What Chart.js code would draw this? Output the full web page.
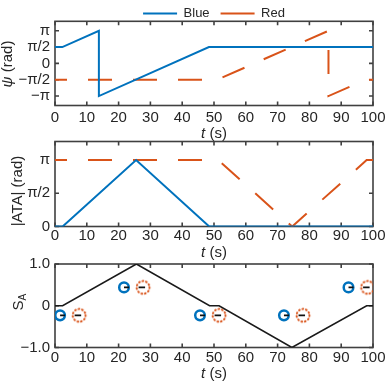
<!DOCTYPE html>
<html><head><meta charset="utf-8">
<script src="https://cdn.jsdelivr.net/npm/chart.js@4.4.1/dist/chart.umd.min.js"></script>
<style>
html,body{margin:0;padding:0;background:#fff;}
#wrap{position:relative;width:387px;height:382px;overflow:hidden;}
#wrap canvas{position:absolute;left:0;top:0;}
</style>
</head><body>
<div id="wrap">
<canvas id="c1" width="387" height="382"></canvas>
<canvas id="c2" width="387" height="382"></canvas>
<canvas id="c3" width="387" height="382"></canvas>
</div>
<script>
const PI = Math.PI;

// ---- data ----
const seriesNames = ['Blue', 'Red'];
const xTickStep = 10;

const psiTimeBlue = [0, 2.3, 13.8, 13.8, 48.4, 100];
const psiBlue     = [PI/2, PI/2, PI, -PI, PI/2, PI/2];
const psiTimeRed  = [0, 51, 86, 86, 97.7, 100];
const psiRed      = [-PI/2, -PI/2, PI, -PI, -PI/2, -PI/2];

const ataTimeBlue = [0, 2.4, 25.5, 48.5, 100];
const ataBlue     = [0, 0, PI, 0, 0];
const ataTimeRed  = [0, 51.3, 74.6, 98, 100];
const ataRed      = [PI, PI, 0, PI, PI];

const saTime   = [0, 2.4, 25.6, 48.6, 51.6, 74.5, 98, 100];
const saValues = [0, 0, 1, 0, 0, -1, 0, 0];

const markerBlueT = [1.6, 21.7, 45.6, 72.0, 92.3];
const markerRedT  = [7.6, 27.7, 51.6, 78.0, 98.3];
const markerY     = [-0.23, 0.44, -0.23, -0.23, 0.44];

const psiTickValues = [-PI, -PI/2, 0, PI/2, PI];
const psiTickLabels = ['\u2212\u03c0', '\u2212\u03c0/2', '0', '\u03c0/2', '\u03c0'];
const ataTickValues = [0, PI/2, PI];
const ataTickLabels = ['0', '\u03c0/2', '\u03c0'];
const saTickValues  = [-1, -0.5, 0, 0.5, 1];
const saTickLabels  = ['\u22121.0', '\u22120.5', '0', '0.5', '1.0'];

// ---- styles ----
const BLUE = '#0072BD';
const RED = '#D95319';
const TEXT = '#262626';
const FONT = "'Liberation Sans', Arial, Helvetica, sans-serif";
Chart.defaults.font.family = FONT;
Chart.defaults.color = TEXT;

const zip = (xs, ys) => xs.map((x, i) => ({x, y: ys[i]}));

function dottedCircle(r, color) {
  const s = Math.ceil(2 * r + 5);
  const c = document.createElement('canvas');
  c.width = s; c.height = s;
  const g = c.getContext('2d');
  g.strokeStyle = color; g.lineWidth = 2; g.lineCap = 'round';
  g.setLineDash([0.7, 2.9]);
  g.beginPath(); g.arc(s / 2, s / 2, r, 0, 2 * PI); g.stroke();
  return c;
}

function drawRich(ctx, segs, cx, cy, size) {
  const fontFor = s => (s.italic ? 'italic ' : '') + (s.sub ? size * 0.68 : size) + 'px ' + FONT;
  let w = 0;
  segs.forEach(s => { ctx.font = fontFor(s); w += ctx.measureText(s.text).width; });
  let x = cx - w / 2;
  ctx.textBaseline = 'middle'; ctx.textAlign = 'left'; ctx.fillStyle = TEXT;
  segs.forEach(s => {
    ctx.font = fontFor(s);
    ctx.fillText(s.text, x, cy + (s.sub ? size * 0.3 : 0));
    x += ctx.measureText(s.text).width;
  });
}

const framePlugin = {
  id: 'frame',
  beforeDatasetsDraw(chart) {
    const {ctx, chartArea: a, scales: {x, y}} = chart;
    ctx.save();
    ctx.strokeStyle = '#404040'; ctx.lineWidth = 1.6;
    ctx.strokeRect(a.left, a.top, a.right - a.left, a.bottom - a.top);
    const L = 4;
    ctx.beginPath();
    x.ticks.forEach(t => {
      const p = x.getPixelForValue(t.value);
      ctx.moveTo(p, a.bottom); ctx.lineTo(p, a.bottom - L);
      ctx.moveTo(p, a.top); ctx.lineTo(p, a.top + L);
    });
    y.ticks.forEach(t => {
      const p = y.getPixelForValue(t.value);
      ctx.moveTo(a.left, p); ctx.lineTo(a.left + L, p);
      ctx.moveTo(a.right, p); ctx.lineTo(a.right - L, p);
    });
    ctx.stroke();
    ctx.restore();
  },
  afterDraw(chart, args, opts) {
    const {ctx, chartArea: a} = chart;
    ctx.save();
    drawRich(ctx, [{text: 't', italic: true}, {text: ' (s)'}], (a.left + a.right) / 2, a.bottom + opts.xTitleOffset, 15);
    ctx.translate(opts.yTitleX, opts.yTitleY);
    ctx.rotate(-PI / 2);
    drawRich(ctx, opts.yTitle, 0, 0, 15);
    ctx.restore();
  }
};

const legendFix = {
  id: 'legendFix',
  beforeUpdate(chart) {
    const lg = chart.legend;
    if (lg && !lg._fixed) {
      const f = lg.fit;
      lg.fit = function () { f.call(this); this.height = 25.3; };
      lg._fixed = true;
    }
  }
};

function makeOptions(cfg) {
  return {
    responsive: false,
    animation: false,
    layout: {padding: {top: cfg.padTop, left: 0, right: 14, bottom: 0}},
    scales: {
      x: {
        type: 'linear', min: 0, max: 100,
        grid: {display: false, drawTicks: false},
        border: {display: false},
        ticks: {stepSize: xTickStep, autoSkip: false, maxRotation: 0, padding: cfg.xTickPad,
                font: {size: 15}, color: TEXT},
        afterFit(s) { s.height = cfg.xAxisHeight; s.paddingLeft = 0; s.paddingRight = 0; }
      },
      y: {
        type: 'linear', min: cfg.yMin, max: cfg.yMax,
        grid: {display: false, drawTicks: false},
        border: {display: false},
        afterBuildTicks(s) { s.ticks = cfg.yTickValues.map(v => ({value: v})); },
        ticks: {padding: 5, font: {size: 15}, color: TEXT,
                callback: (v, i) => cfg.yTickLabels[i]},
        afterFit(s) { s.width = 55; s.paddingTop = 0; s.paddingBottom = 0; }
      }
    },
    plugins: {
      legend: cfg.legend || {display: false},
      tooltip: {enabled: false},
      frame: cfg.frame
    }
  };
}

const lineDs = (label, data, color, dash) => ({
  label, data, borderColor: color, backgroundColor: color, borderWidth: 2,
  borderDash: dash || [], borderDashOffset: dash ? 12 : 0,
  pointRadius: 0, tension: 0, fill: false
});

// ---- panel 1 ----
new Chart(document.getElementById('c1'), {
  type: 'line',
  data: {datasets: [
    lineDs(seriesNames[0], zip(psiTimeBlue, psiBlue), BLUE),
    lineDs(seriesNames[1], zip(psiTimeRed, psiRed), RED, [24, 21])
  ]},
  options: makeOptions({
    padTop: -4, xAxisHeight: 382 - 105.5, xTickPad: 3,
    yMin: -4.05, yMax: 4.05, yTickValues: psiTickValues, yTickLabels: psiTickLabels,
    legend: {
      display: true, position: 'top', fullSize: false,
      labels: {
        usePointStyle: true, pointStyle: 'line', pointStyleWidth: 34, boxWidth: 34,
        padding: 11, font: {size: 13}, color: TEXT,
        generateLabels(chart) {
          const items = Chart.defaults.plugins.legend.labels.generateLabels(chart);
          items.forEach(it => { it.lineDash = it.lineDash && it.lineDash.length ? [7, 4] : []; it.lineDashOffset = 0; it.pointStyle = 'line'; });
          return items;
        }
      }
    },
    frame: {xTitleOffset: 28, yTitleX: 8, yTitleY: 64,
            yTitle: [{text: '\u03c8', italic: true}, {text: ' (rad)'}]}
  }),
  plugins: [legendFix, framePlugin]
});

// ---- panel 2 ----
new Chart(document.getElementById('c2'), {
  type: 'line',
  data: {datasets: [
    lineDs(seriesNames[0], zip(ataTimeBlue, ataBlue), BLUE),
    lineDs(seriesNames[1], zip(ataTimeRed, ataRed), RED, [24, 21])
  ]},
  options: makeOptions({
    padTop: 141.5, xAxisHeight: 382 - 226.5, xTickPad: 0,
    yMin: 0, yMax: 4.02, yTickValues: ataTickValues, yTickLabels: ataTickLabels,
    frame: {xTitleOffset: 26.5, yTitleX: 18, yTitleY: 191,
            yTitle: [{text: '|ATA| (rad)'}]}
  }),
  plugins: [framePlugin]
});

// ---- panel 3 ----
const markerLines = {
  id: 'markerLines',
  afterDatasetsDraw(chart) {
    const {ctx, scales: {x, y}} = chart;
    ctx.save();
    ctx.strokeStyle = '#111'; ctx.lineWidth = 1.6;
    ctx.beginPath();
    markerBlueT.forEach((t, i) => {
      const py = y.getPixelForValue(markerY[i]);
      const bx = x.getPixelForValue(t);
      const rx = x.getPixelForValue(markerRedT[i]);
      ctx.moveTo(bx, py); ctx.lineTo(bx + 5, py);
      ctx.moveTo(rx - 4.5, py); ctx.lineTo(rx + 2, py);
    });
    ctx.stroke();
    ctx.restore();
  }
};

new Chart(document.getElementById('c3'), {
  type: 'line',
  data: {datasets: [
    {label: 'SA', data: zip(saTime, saValues), borderColor: '#1a1a1a', borderWidth: 1.6,
     pointRadius: 0, tension: 0, fill: false},
    {label: 'blueMarkers', data: zip(markerBlueT, markerY), showLine: false,
     pointStyle: 'circle', pointRadius: 4.8, pointBorderWidth: 2.5,
     pointBorderColor: BLUE, pointBackgroundColor: 'rgba(0,0,0,0)'},
    {label: 'redMarkers', data: zip(markerRedT, markerY), showLine: false,
     pointStyle: dottedCircle(6.4, RED), pointRadius: 7}
  ]},
  options: makeOptions({
    padTop: 264, xAxisHeight: 382 - 347.5, xTickPad: 1,
    yMin: -1, yMax: 1, yTickValues: saTickValues, yTickLabels: saTickLabels,
    frame: {xTitleOffset: 26.5, yTitleX: 19, yTitleY: 302,
            yTitle: [{text: 'S'}, {text: 'A', sub: true}]}
  }),
  plugins: [framePlugin, markerLines]
});
</script>
</body></html>
